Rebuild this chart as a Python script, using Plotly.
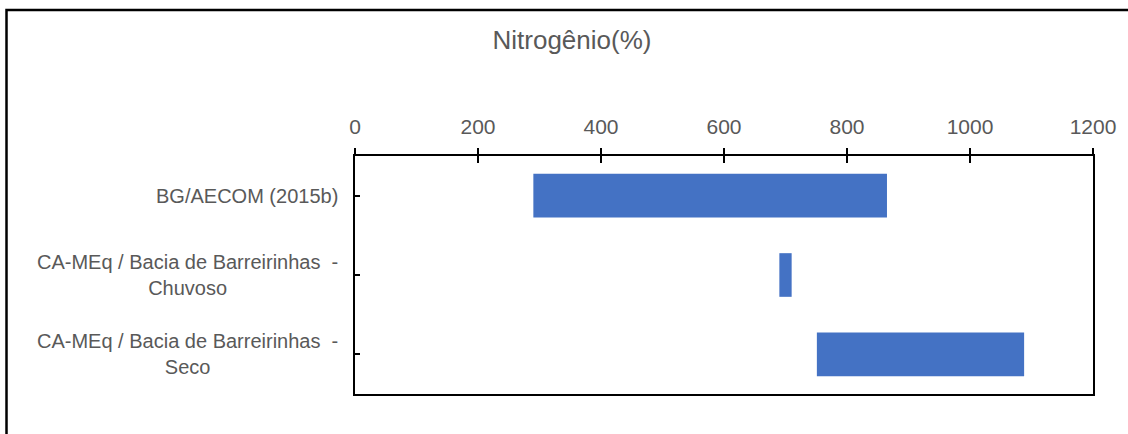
import plotly.graph_objects as go

# ---- data ----
categories = [
    "BG/AECOM (2015b)",
    "CA-MEq / Bacia de Barreirinhas  -<br>Chuvoso",
    "CA-MEq / Bacia de Barreirinhas  -<br>Seco",
]
range_low = [290, 690, 751]
range_high = [865, 710, 1088]
x_ticks = [0, 200, 400, 600, 800, 1000, 1200]
chart_title = "Nitrogênio(%)"

FONT = "Liberation Sans, Arial, sans-serif"
GRAY = "#595959"

fig = go.Figure()
fig.add_trace(go.Bar(
    y=categories,
    x=[h - l for l, h in zip(range_low, range_high)],
    base=range_low,
    orientation="h",
    width=0.55,
    marker=dict(color="#4472C4", line=dict(width=0)),
    showlegend=False,
    hoverinfo="skip",
    xaxis="x", yaxis="y",
))
# invisible helper trace for the inward half of the crossing ticks
fig.add_trace(go.Scatter(
    x=[x_ticks[0]], y=[categories[0]], mode="markers",
    marker=dict(opacity=0), showlegend=False, hoverinfo="skip",
    xaxis="x2", yaxis="y",
))

for cat in categories:
    fig.add_annotation(
        x=0, xref="paper", y=cat, yref="y",
        xanchor="right", yanchor="middle", xshift=-15,
        text=cat, showarrow=False, align="center",
        font=dict(family=FONT, size=20, color=GRAY),
    )

fig.update_layout(
    width=1128, height=434,
    margin=dict(l=355, r=35, t=156, b=40),
    paper_bgcolor="white", plot_bgcolor="white",
    title=dict(
        text=chart_title, x=572 / 1128, xref="container", xanchor="center",
        y=1 - 40 / 434, yref="container", yanchor="middle",
        font=dict(family=FONT, size=26, color=GRAY),
    ),
    xaxis=dict(
        side="top", range=[0, 1200], tickvals=x_ticks,
        ticks="outside", ticklen=6, tickwidth=1.5, tickcolor="black",
        ticklabelstandoff=6,
        showline=True, linecolor="black", linewidth=1.5, mirror=True,
        showgrid=False, zeroline=False,
        tickfont=dict(family=FONT, size=21, color=GRAY),
    ),
    xaxis2=dict(
        overlaying="x", matches="x", side="top", range=[0, 1200], tickvals=x_ticks,
        ticks="inside", ticklen=7, tickwidth=1.5, tickcolor="black",
        showticklabels=False, showline=False, showgrid=False, zeroline=False,
    ),
    yaxis=dict(
        type="category", categoryarray=categories, categoryorder="array",
        autorange="reversed",
        ticks="inside", ticklen=5, tickwidth=1.5, tickcolor="black",
        showticklabels=False,
        showline=True, linecolor="black", linewidth=1.5, mirror=True,
        showgrid=False, zeroline=False,
    ),
    shapes=[
        # outer chart frame (right and bottom edges fall outside the view)
        dict(type="rect", xref="paper", yref="paper",
             x0=(6.5 - 355) / 738, x1=(1140 - 355) / 738,
             y0=(394 - 445) / 238, y1=(394 - 10) / 238,
             line=dict(color="black", width=2.5), layer="below"),
    ],
)

fig.write_html("out.html")
